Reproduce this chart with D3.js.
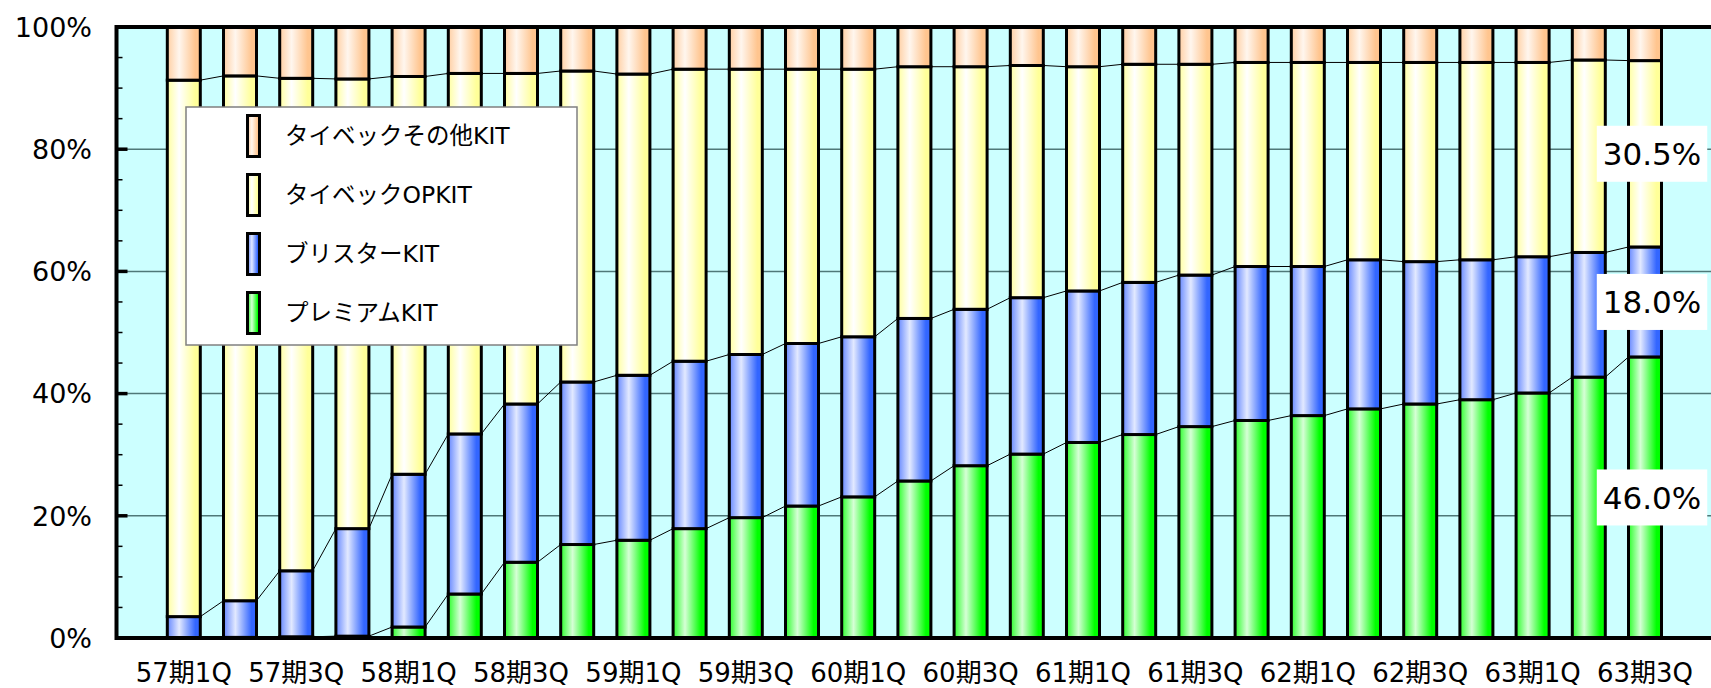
<!DOCTYPE html>
<html>
<head>
<meta charset="utf-8">
<script src="https://cdn.jsdelivr.net/npm/d3@7/dist/d3.min.js"></script>
<style>
  html, body { margin: 0; padding: 0; background: #ffffff; }
  svg { display: block; }
  text { font-family: "DejaVu Sans", "Noto Sans CJK JP", sans-serif; fill: #000; }
</style>
</head>
<body>
<svg id="chart" width="1711" height="688"></svg>
<script>
// Quarterly periods (57期1Q .. 63期3Q)
const categories = [
  "57期1Q","57期2Q","57期3Q","57期4Q",
  "58期1Q","58期2Q","58期3Q","58期4Q",
  "59期1Q","59期2Q","59期3Q","59期4Q",
  "60期1Q","60期2Q","60期3Q","60期4Q",
  "61期1Q","61期2Q","61期3Q","61期4Q",
  "62期1Q","62期2Q","62期3Q","62期4Q",
  "63期1Q","63期2Q","63期3Q"
];

// Share of each kit type per quarter (%)
const premiumKit = [0, 0.1, 0.2, 0.3, 1.8, 7.2, 12.4, 15.3, 16.0, 17.9, 19.7, 21.6, 23.1, 25.7,
  28.2, 30.1, 32.0, 33.3, 34.6, 35.6, 36.4, 37.5, 38.3, 39.0, 40.1, 42.7, 46.0];
const blisterKit = [3.5, 6.0, 10.8, 17.6, 25.0, 26.2, 25.9, 26.6, 27.0, 27.4, 26.7, 26.6, 26.2, 26.6,
  25.6, 25.6, 24.8, 24.9, 24.8, 25.2, 24.4, 24.4, 23.3, 22.9, 22.3, 20.4, 18.0];
const tyvekOpKit = [87.8, 85.9, 80.6, 73.6, 65.1, 59.0, 54.1, 50.9, 49.3, 47.8, 46.7, 44.9, 43.8, 41.2,
  39.7, 38.0, 36.7, 35.7, 34.5, 33.4, 33.4, 32.3, 32.6, 32.3, 31.8, 31.5, 30.5];
const tyvekOtherKit = [8.7, 8.0, 8.4, 8.5, 8.1, 7.6, 7.6, 7.2, 7.7, 6.9, 6.9, 6.9, 6.9, 6.5,
  6.5, 6.3, 6.5, 6.1, 6.1, 5.8, 5.8, 5.8, 5.8, 5.8, 5.8, 5.4, 5.5];

const seriesNames = ["プレミアムKIT", "ブリスターKIT", "タイベックOPKIT", "タイベックその他KIT"];
const seriesValues = [premiumKit, blisterKit, tyvekOpKit, tyvekOtherKit];

// Axis ticks
const yTickValues = [0, 20, 40, 60, 80, 100];
const yMinorTicks = d3.range(0, 101, 5);
const xTickLabels = categories.filter((d, i) => i % 2 === 0);

// Fill gradients: [left edge, highlight, right edge]
const seriesColors = [
  ["#2cff2c", "#d6ffd6", "#00ff00"],
  ["#6688ff", "#e2e9ff", "#3366ff"],
  ["#ffffa0", "#ffffff", "#ffff99"],
  ["#ffcfa3", "#fff6ee", "#ffc58f"]
];

// ---- layout
const plot = { left: 116.5, top: 27, right: 1711, bottom: 638 };

const svg = d3.select("#chart");
const defs = svg.append("defs");

seriesColors.forEach((c, i) => {
  const g = defs.append("linearGradient")
    .attr("id", "grad" + i)
    .attr("x1", "0").attr("x2", "1").attr("y1", "0").attr("y2", "0");
  g.append("stop").attr("offset", "0%").attr("stop-color", c[0]);
  g.append("stop").attr("offset", "36%").attr("stop-color", c[1]);
  g.append("stop").attr("offset", "85%").attr("stop-color", c[2]);
  g.append("stop").attr("offset", "100%").attr("stop-color", c[2]);
});

const rows = categories.map((cat, i) => {
  const r = { cat };
  seriesNames.forEach((s, k) => { r[s] = seriesValues[k][i]; });
  return r;
});
const stacked = d3.stack().keys(seriesNames)(rows);

const x = d3.scaleBand()
  .domain(categories)
  .range([155.7, 1673.1])
  .paddingInner(0.413)
  .paddingOuter(0.2065);

const y = d3.scaleLinear().domain([0, 100]).range([plot.bottom, plot.top]);

// plot background
svg.append("rect")
  .attr("x", plot.left).attr("y", plot.top)
  .attr("width", plot.right - plot.left).attr("height", plot.bottom - plot.top)
  .attr("fill", "#ccffff");

// gridlines
svg.append("g")
  .selectAll("line")
  .data(yTickValues.filter(v => v > 0 && v < 100))
  .join("line")
  .attr("x1", plot.left).attr("x2", plot.right)
  .attr("y1", d => y(d)).attr("y2", d => y(d))
  .attr("stroke", "#4f7878").attr("stroke-width", 1.5);

// series lines linking adjacent bars
const seriesLines = svg.append("g");
stacked.forEach(layer => {
  for (let i = 0; i < categories.length - 1; i++) {
    const a = layer[i], b = layer[i + 1];
    seriesLines.append("line")
      .attr("x1", x(categories[i]) + x.bandwidth())
      .attr("x2", x(categories[i + 1]))
      .attr("y1", y(a[1])).attr("y2", y(b[1]))
      .attr("stroke", "#000").attr("stroke-width", 1);
  }
});

// bars
const barG = svg.append("g");
stacked.forEach((layer, k) => {
  barG.append("g")
    .selectAll("rect")
    .data(layer)
    .join("rect")
    .attr("x", d => x(d.data.cat))
    .attr("width", x.bandwidth())
    .attr("y", d => y(d[1]))
    .attr("height", d => Math.max(0, y(d[0]) - y(d[1])))
    .attr("fill", "url(#grad" + k + ")")
    .attr("stroke", "#000")
    .attr("stroke-width", 3);
});

// axes frame
svg.append("line")
  .attr("x1", plot.left - 1).attr("x2", plot.right)
  .attr("y1", plot.top).attr("y2", plot.top)
  .attr("stroke", "#000").attr("stroke-width", 4);
svg.append("line")
  .attr("x1", plot.left - 1).attr("x2", plot.right)
  .attr("y1", plot.bottom).attr("y2", plot.bottom)
  .attr("stroke", "#000").attr("stroke-width", 4);

// y axis with minor and major ticks
const yAxisG = svg.append("g");
yAxisG.append("line")
  .attr("x1", plot.left).attr("x2", plot.left)
  .attr("y1", plot.top - 2).attr("y2", plot.bottom + 2)
  .attr("stroke", "#000").attr("stroke-width", 4);
yAxisG.selectAll("line.minor")
  .data(yMinorTicks.filter(v => v % 20 !== 0))
  .join("line").attr("class", "minor")
  .attr("x1", plot.left).attr("x2", plot.left + 6)
  .attr("y1", d => y(d)).attr("y2", d => y(d))
  .attr("stroke", "#000").attr("stroke-width", 1.5);
yAxisG.selectAll("line.major")
  .data(yTickValues)
  .join("line").attr("class", "major")
  .attr("x1", plot.left).attr("x2", plot.left + 11)
  .attr("y1", d => y(d)).attr("y2", d => y(d))
  .attr("stroke", "#000").attr("stroke-width", 3.5);
yAxisG.selectAll("text")
  .data(yTickValues)
  .join("text")
  .attr("x", 92)
  .attr("y", d => y(d))
  .attr("dy", "0.36em")
  .attr("text-anchor", "end")
  .attr("font-size", 27)
  .text(d => d + "%");

// x axis labels (every other quarter)
svg.append("g")
  .selectAll("text")
  .data(xTickLabels)
  .join("text")
  .attr("x", d => x(d) + x.bandwidth() / 2)
  .attr("y", 682)
  .attr("text-anchor", "middle")
  .attr("font-size", 26)
  .text(d => d);

// legend
const legend = svg.append("g");
legend.append("rect")
  .attr("x", 186).attr("y", 107)
  .attr("width", 391).attr("height", 238)
  .attr("fill", "#ffffff")
  .attr("stroke", "#808080").attr("stroke-width", 1.5);
const legendOrder = [3, 2, 1, 0];
legendOrder.forEach((k, row) => {
  const cy = 136 + row * 59;
  legend.append("rect")
    .attr("x", 247.5).attr("y", cy - 20.5)
    .attr("width", 12).attr("height", 41)
    .attr("fill", "url(#grad" + k + ")")
    .attr("stroke", "#000").attr("stroke-width", 3);
  legend.append("text")
    .attr("x", 285).attr("y", cy)
    .attr("dy", "0.36em")
    .attr("font-size", 23.5)
    .text(seriesNames[k]);
});

// value labels on the latest quarter
const last = categories.length - 1;
const labelG = svg.append("g");
[0, 1, 2].forEach(k => {
  const d = stacked[k][last];
  const v = seriesValues[k][last];
  const cx = x(categories[last]) + x.bandwidth() / 2 + 7;
  const cy = y((d[0] + d[1]) / 2);
  const t = labelG.append("text")
    .attr("x", cx).attr("y", cy)
    .attr("dy", "0.36em")
    .attr("text-anchor", "middle")
    .attr("font-size", 31)
    .text(v.toFixed(1) + "%");
  const w = t.node().getComputedTextLength() + 12;
  labelG.insert("rect", "text")
    .attr("x", cx - w / 2).attr("y", cy - 28)
    .attr("width", w).attr("height", 56)
    .attr("fill", "#ffffff");
});
</script>
</body>
</html>
